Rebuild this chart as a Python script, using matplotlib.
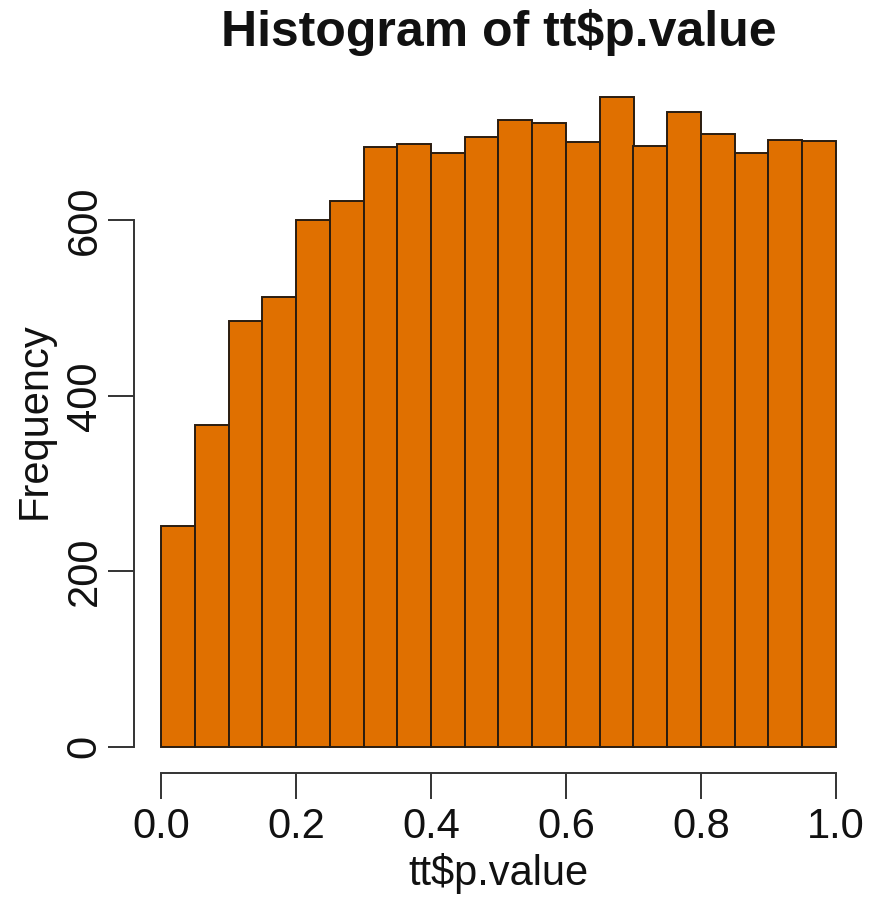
import matplotlib
matplotlib.use("Agg")
import matplotlib.pyplot as plt

# histogram bins of p-values and their counts
bin_edges = [0.00, 0.05, 0.10, 0.15, 0.20, 0.25, 0.30, 0.35, 0.40, 0.45,
             0.50, 0.55, 0.60, 0.65, 0.70, 0.75, 0.80, 0.85, 0.90, 0.95, 1.00]
counts = [252, 367, 485, 513, 600, 622, 683, 687, 677, 695,
          714, 711, 689, 741, 685, 723, 698, 677, 692, 690]
x_ticks = [0.0, 0.2, 0.4, 0.6, 0.8, 1.0]
x_tick_labels = ["0.0", "0.2", "0.4", "0.6", "0.8", "1.0"]
y_ticks = [0, 200, 400, 600]

plt.rcParams["font.family"] = ["Liberation Sans", "DejaVu Sans"]

W, H = 869, 901
fig = plt.figure(figsize=(W / 100, H / 100), dpi=100)
ax = fig.add_axes([134 / W, 1 - 772.7 / H, (863 - 134) / W, (772.7 - 70.6) / H])

lefts = bin_edges[:-1]
widths = [b - a for a, b in zip(bin_edges[:-1], bin_edges[1:])]
ax.bar(lefts, counts, width=widths, align="edge", color="#E07000",
       edgecolor="#2a1c10", linewidth=1.4)

ymax = max(counts)
ax.set_xlim(-0.04, 1.04)
ax.set_ylim(-0.04 * ymax, 1.04 * ymax)

for s in ("top", "right"):
    ax.spines[s].set_visible(False)
for s in ("left", "bottom"):
    ax.spines[s].set_color("#333333")
    ax.spines[s].set_linewidth(1.4)
ax.spines["left"].set_bounds(0, 600)
ax.spines["bottom"].set_bounds(0, 1)

ax.set_xticks(x_ticks)
ax.set_xticklabels(x_tick_labels)
ax.set_yticks(y_ticks)
ax.set_yticklabels([str(v) for v in y_ticks], rotation=90, va="center")
ax.tick_params(axis="both", length=19, width=1.4, color="#333333",
               labelsize=30, labelcolor="#111111")
ax.tick_params(axis="x", pad=6)
ax.tick_params(axis="y", pad=2)

cx = (134 + 863) / 2 / W
fig.text(cx, 1 - 33 / H, "Histogram of tt$p.value", ha="center", va="center",
         fontsize=36, fontweight="bold", color="#111111")
fig.text(cx, 1 - 873 / H, "tt$p.value", ha="center", va="center",
         fontsize=30, color="#111111")
fig.text(35 / W, 1 - 421 / H, "Frequency", ha="center", va="center",
         rotation=90, fontsize=30, color="#111111")

fig.savefig("out.png", dpi=100, facecolor="white")
